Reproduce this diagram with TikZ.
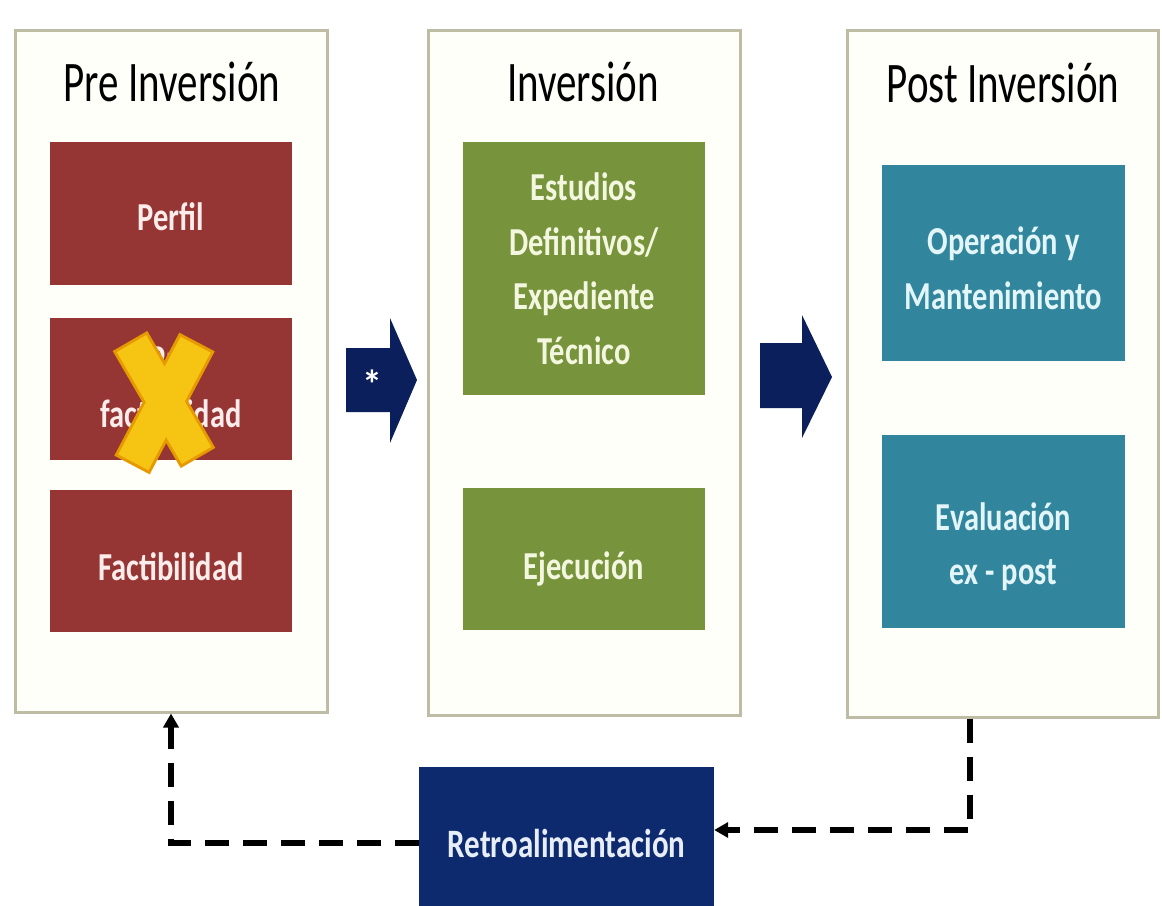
\documentclass[tikz,border=0pt]{standalone}
\usepackage{fontspec}
\setmainfont{Carlito}
\usetikzlibrary{arrows.meta}
\definecolor{phaseline}{HTML}{BFBCA6}
\definecolor{phasefill}{HTML}{FFFFF9}
\definecolor{redbox}{HTML}{963634}
\definecolor{greenbox}{HTML}{77933C}
\definecolor{tealbox}{HTML}{31859C}
\definecolor{navybox}{HTML}{0E2A6E}
\definecolor{navyarrow}{HTML}{0B1F5C}
\definecolor{redtext}{HTML}{FCECEC}
\definecolor{greentext}{HTML}{F4F7DF}
\definecolor{tealtext}{HTML}{E2F5F8}
\definecolor{navytext}{HTML}{E8EEF8}
\definecolor{xgold}{HTML}{F6C412}
\definecolor{xedge}{HTML}{E69A00}
\newcommand{\boxtxt}[2][0pt]{\raisebox{-#1}[\height][\depth]{\scalebox{1}[1.3]{\begin{tabular}{@{}c@{}}#2\end{tabular}}}}
\newcommand{\titletxt}[1]{\scalebox{1}[1.4]{#1}}
\tikzset{
  phase/.style={draw=phaseline, line width=3pt, fill=phasefill, rectangle, inner sep=0pt},
  ptitle/.style={font=\fontsize{41}{49}\selectfont, text=black, inner sep=0pt},
  stepbox/.style={rectangle, inner sep=0pt, minimum width=242pt,
    font=\bfseries\fontsize{30.5}{42}\selectfont},
  redstep/.style={stepbox, fill=redbox, text=redtext},
  greenstep/.style={stepbox, fill=greenbox, text=greentext},
  tealstep/.style={stepbox, fill=tealbox, text=tealtext},
  fb/.style={line width=6pt, dash pattern=on 24pt off 14pt, black,
    -{Triangle[length=14pt,width=15pt]}},
  bigarrow/.style={fill=navyarrow},
  xbar/.style={line cap=butt}
}
\begin{document}
\begin{tikzpicture}[x=1pt,y=-1pt]
\useasboundingbox (0,0) rectangle (1162,905);
\fill[white] (0,0) rectangle (1162,905);

% phase panels
\node[phase, minimum width=312pt, minimum height=682pt] (pre) at (171,371) {};
\node[phase, minimum width=312pt, minimum height=685pt] (inv) at (584,372.5) {};
\node[phase, minimum width=311pt, minimum height=687pt] (post) at (1002.5,373.5) {};

% titles
\node[ptitle] (t1) at (172,82) {\titletxt{Pre Inversión}};
\node[ptitle] (t2) at (583,82) {\titletxt{Inversión}};
\node[ptitle] (t3) at (1003,83) {\titletxt{Post Inversión}};

% pre inversion steps
\node[redstep, minimum height=143pt] (perfil) at (171,213.5) {\boxtxt[6pt]{Perfil}};
\node[redstep, minimum height=142pt] (prefact) at (171,389) {\boxtxt{Pre\\factibilidad}};
\node[redstep, minimum height=142pt] (fact) at (171,561) {\boxtxt[9pt]{Factibilidad}};

% cross over pre-factibilidad
\draw[xbar, xedge, line width=40pt] (130,341) -- (198,458);
\draw[xbar, xedge, line width=40pt] (197,342) -- (132,465);
\draw[xbar, xgold, line width=34pt] (131.5,343.6) -- (196.5,455.4);
\draw[xbar, xgold, line width=34pt] (195.6,344.7) -- (133.4,462.3);

% inversion steps
\node[greenstep, minimum height=253pt] (estudios) at (584,268.5)
  {\boxtxt[3pt]{Estudios\\Definitivos/\\Expediente\\Técnico}};
\node[greenstep, minimum height=142pt] (ejec) at (584,559) {\boxtxt[10pt]{Ejecución}};

% post inversion steps
\node[tealstep, minimum width=243pt, minimum height=196pt] (opera) at (1003.5,263)
  {\boxtxt[8pt]{Operación y\\Mantenimiento}};
\node[tealstep, minimum width=243pt, minimum height=193pt] (evalua) at (1003.5,531.5)
  {\boxtxt[15pt]{Evaluación\\ex - post}};

% big arrows between phases
\fill[bigarrow] (346,348) -- (390,348) -- (390,318) -- (417,380) -- (390,443)
  -- (390,412) -- (346,412) -- cycle;
\node[text=white, font=\bfseries\fontsize{40}{44}\selectfont, inner sep=0pt, anchor=base] (star) at (372,398) {*};
\fill[bigarrow] (760,343) -- (802,343) -- (802,315) -- (832,377) -- (802,438)
  -- (802,408) -- (760,408) -- cycle;

% feedback box
\node[rectangle, fill=navybox, text=navytext, inner sep=0pt,
  minimum width=295pt, minimum height=152pt,
  font=\bfseries\fontsize{31}{40}\selectfont] (retro) at (566.5,843)
  {\scalebox{1}[1.3]{Retroalimentación}};

% feedback connectors
\draw[fb] ([xshift=-32.5pt]post.south) |- ([yshift=13pt]retro.east);
\draw[fb] (retro.west) -| (pre.south);
\end{tikzpicture}
\end{document}
